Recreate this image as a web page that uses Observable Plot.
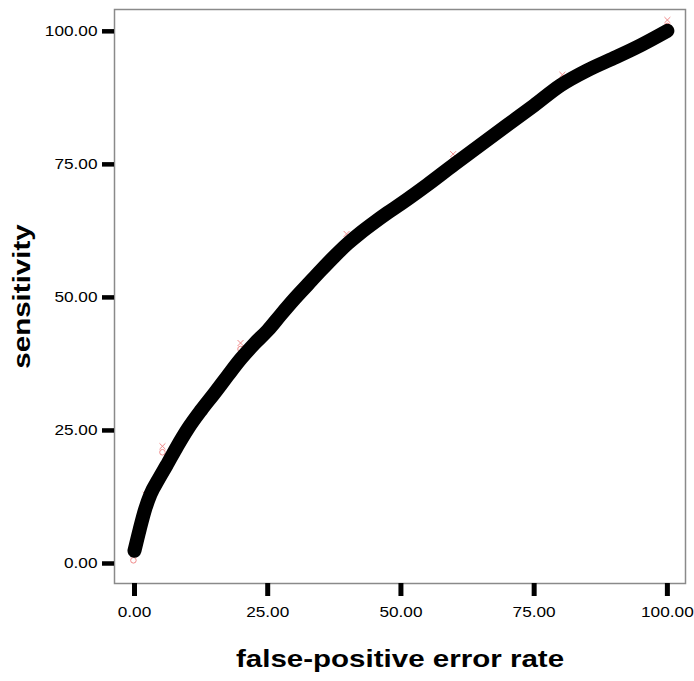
<!DOCTYPE html>
<html>
<head>
<meta charset="utf-8">
<script src="https://cdn.jsdelivr.net/npm/d3@7"></script>
<script src="https://cdn.jsdelivr.net/npm/@observablehq/plot@0.6"></script>
<style>
  html, body { margin: 0; padding: 0; background: #fff; }
  svg { font-family: "Liberation Sans", Arial, sans-serif; }
</style>
</head>
<body>
<div id="chart"></div>
<script>
// ROC curve (false-positive error rate vs sensitivity)
const fpr = [0, 1, 2, 3, 4.5, 6, 8, 10, 12.5, 15, 17.5, 20, 22.5, 25, 27.5, 30, 32.5, 35, 37.5, 40, 42.5, 45, 47.5, 50, 55, 60, 65, 70, 75, 80, 85, 90, 95, 100];
const sens = [2.4, 6.5, 10.2, 13, 15.8, 18.4, 22, 25.3, 28.8, 32, 35.3, 38.5, 41.3, 43.8, 46.8, 49.7, 52.4, 55.1, 57.7, 60.1, 62.2, 64.1, 65.9, 67.6, 71.2, 75, 78.7, 82.4, 86.1, 89.9, 92.7, 95, 97.4, 100.1];

// small pink reference markers
const markX = [-0.2, 2.1, 5.25, 19.9, 39.8, 59.8, 80.3, 100];
const markY = [0.6, 11.8, 20.9, 40.3, 60.8, 75.8, 90.7, 101];

const tickVals = [0, 25, 50, 75, 100];
const xTitle = "false-positive error rate";
const yTitle = "sensitivity";

const curve = fpr.map((x, i) => ({x, y: sens[i]}));
const marks = markX.map((x, i) => ({x, y: markY[i]}));
const pink = "#f08a8a";

const plot = Plot.plot({
  width: 694,
  height: 681,
  marginLeft: 114,
  marginRight: 9,
  marginTop: 9,
  marginBottom: 98,
  style: {background: "#fff", color: "#000", fontFamily: "Liberation Sans, Arial, sans-serif"},
  x: {domain: [-3.75, 103.4]},
  y: {domain: [-3.76, 104.1]},
  marks: [
    Plot.dot(marks, {x: "x", y: "y", r: 2.8, stroke: pink, strokeWidth: 1}),
    Plot.dot(marks, {x: "x", y: "y", r: 2.8, symbol: "times", stroke: pink, strokeWidth: 1, dy: -6}),
    Plot.line(curve, {x: "x", y: "y", stroke: "#000", strokeWidth: 14, strokeLinecap: "round", strokeLinejoin: "round", curve: "monotone-x"}),
    Plot.frame({stroke: "#8a8a8a", strokeWidth: 1.5}),
    Plot.axisY({ticks: tickVals, tickSize: 12, tickPadding: 5, strokeWidth: 4.5, fontSize: 14, tickFormat: d => d.toFixed(2), label: null}),
    Plot.axisX({ticks: tickVals, tickSize: 13, tickPadding: 11, strokeWidth: 5, fontSize: 14, tickFormat: d => d.toFixed(2), label: null}),
    Plot.text([xTitle], {frameAnchor: "bottom", dy: 76, fontSize: 24, fontWeight: "bold", lineAnchor: "middle", textAnchor: "middle", text: d => d}),
    Plot.text([yTitle], {frameAnchor: "left", dx: -92, rotate: -90, fontSize: 24, fontWeight: "bold", lineAnchor: "middle", textAnchor: "middle", text: d => d})
  ]
});
document.getElementById("chart").appendChild(plot);

// the reference text is drawn about 1.23x wider than Arial along its baseline
plot.querySelectorAll("text").forEach(t => {
  const len = t.getComputedTextLength();
  if (len > 0) {
    t.setAttribute("textLength", (len * 1.23).toFixed(1));
    t.setAttribute("lengthAdjust", "spacingAndGlyphs");
  }
});
</script>
</body>
</html>
